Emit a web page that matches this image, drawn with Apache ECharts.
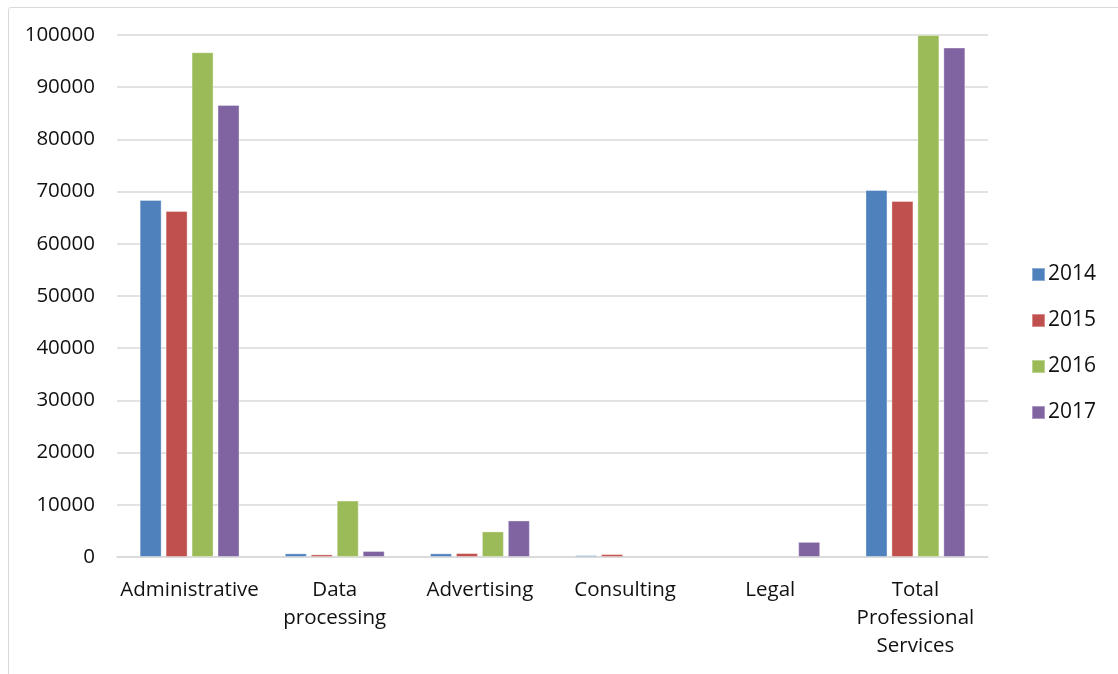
<!DOCTYPE html>
<html><head><meta charset="utf-8">
<script src="https://cdn.jsdelivr.net/npm/echarts@6/dist/echarts.min.js"></script>
<style>
html,body{margin:0;padding:0;background:#fff;}
#frame{position:absolute;left:8px;top:7px;width:1120px;height:680px;border:1px solid #d9d9d9;border-radius:3px;}
#c{position:absolute;left:0;top:0;width:1118px;height:674px;}
</style></head>
<body><div id="frame"></div><div id="c"></div>
<script>
const categories = ['Administrative', 'Data\nprocessing', 'Advertising', 'Consulting', 'Legal', 'Total\nProfessional\nServices'];
const seriesNames = ['2014', '2015', '2016', '2017'];
const v2014 = [68400, 700, 700, 350, null, 70300];
const v2015 = [66300, 500, 750, 550, null, 68200];
const v2016 = [96700, 10800, 4900, null, null, 100000];
const v2017 = [86600, 1150, 7000, null, 2900, 97600];
const colors = ['#4f81bd', '#c0504d', '#9bbb59', '#8064a2'];
const values = [v2014, v2015, v2016, v2017];
const font = '"Open Sans", Lato, sans-serif';
const chart = echarts.init(document.getElementById('c'));
chart.setOption({
  animation: false,
  grid: {left: 117, right: 130, top: 35, bottom: 117, containLabel: false},
  legend: {
    orient: 'vertical', left: 1026, top: 259,
    itemWidth: 13, itemHeight: 13, itemGap: 25, icon: 'rect',
    textStyle: {fontFamily: font, fontSize: 21, color: '#111', lineHeight: 20, padding: [0, 0, 0, -2]},
    data: seriesNames
  },
  xAxis: {
    type: 'category', data: categories,
    axisLine: {lineStyle: {color: '#d9d9d9', width: 1.5}},
    axisTick: {show: false},
    axisLabel: {fontFamily: font, fontSize: 20.5, color: '#111', lineHeight: 28, margin: 19, interval: 0}
  },
  yAxis: {
    type: 'value', min: 0, max: 100000, interval: 10000,
    axisLine: {show: false}, axisTick: {show: false},
    splitLine: {lineStyle: {color: '#d9d9d9', width: 1.5}},
    axisLabel: {fontFamily: font, fontSize: 20.5, color: '#111', margin: 22, formatter: v => String(v)}
  },
  series: seriesNames.map((n, i) => ({
    name: n, type: 'bar', data: values[i],
    barWidth: 22, barGap: '18%',
    itemStyle: {color: colors[i], borderColor: 'rgba(255,255,255,0.35)', borderWidth: 1}
  }))
});
</script></body></html>
